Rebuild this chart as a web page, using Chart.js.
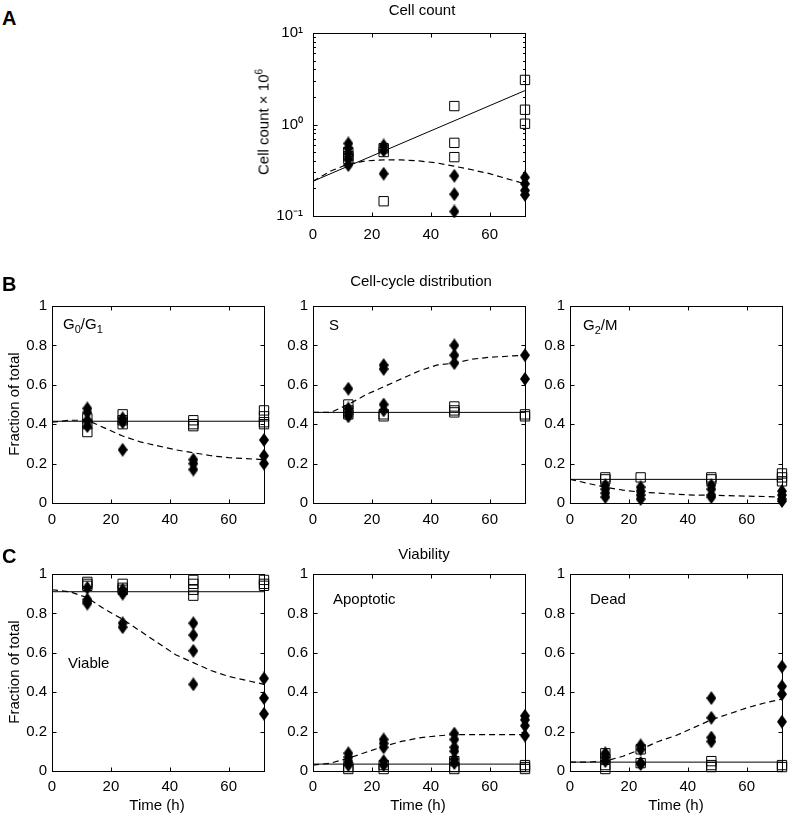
<!DOCTYPE html>
<html>
<head>
<meta charset="utf-8">
<script src="https://cdn.jsdelivr.net/npm/chart.js@4.4.0/dist/chart.umd.min.js"></script>
<style>
    body { margin: 0; background: #fff; width: 789px; height: 814px; position: relative; overflow: hidden;
           font-family: "Liberation Sans", Arial, sans-serif; color: #000; }
    canvas { position: absolute; z-index: 1; }
    .t { position: absolute; z-index: 2; font-size: 15px; font-weight: 400; line-height: 1; white-space: nowrap; }
    .c { transform: translateX(-50%); }
    .letter { position: absolute; z-index: 2; font-weight: bold; font-size: 20px; line-height: 1; }
    .yl { position: absolute; z-index: 2; font-size: 15px; line-height: 1; white-space: nowrap; transform: translate(-50%, -50%) rotate(-90deg); }
    sub { font-size: 11px; vertical-align: -4px; line-height: 0; }
    sup { font-size: 10px; vertical-align: 6px; line-height: 0; }
</style>
</head>
<body>
<div class="letter" style="left:2px;top:8px">A</div>
<div class="letter" style="left:2px;top:274px">B</div>
<div class="letter" style="left:2px;top:546px">C</div>

<div class="t c" style="left:422px;top:2px">Cell count</div>
<div class="t c" style="left:421px;top:273px">Cell-cycle distribution</div>
<div class="t c" style="left:424px;top:546px">Viability</div>

<div class="yl" style="left:263px;top:122px">Cell count × 10<sup>6</sup></div>
<div class="yl" style="left:13px;top:404px">Fraction of total</div>
<div class="yl" style="left:13px;top:672px">Fraction of total</div>

<div class="t" style="left:63px;top:316px">G<sub>0</sub>/G<sub>1</sub></div>
<div class="t" style="left:329px;top:317px">S</div>
<div class="t" style="left:583px;top:317px">G<sub>2</sub>/M</div>
<div class="t" style="left:68px;top:655px">Viable</div>
<div class="t" style="left:333px;top:591px">Apoptotic</div>
<div class="t" style="left:590px;top:591px">Dead</div>

<div class="t c" style="left:157px;top:797px">Time (h)</div>
<div class="t c" style="left:418px;top:797px">Time (h)</div>
<div class="t c" style="left:676px;top:797px">Time (h)</div>

<script>
/* ================= DATA ================= */
const times = [12, 24, 48, 72];
const curveT = [0, 6, 12, 18, 24, 30, 36, 42, 48, 54, 60, 66, 72];
const lineT = [0, 72];
const xTicks = [0, 20, 40, 60];
const fracTicks = [0, 0.2, 0.4, 0.6, 0.8, 1];
const fracTickLabels = ['0', '0.2', '0.4', '0.6', '0.8', '1'];
const logTicks = [0.1, 1, 10];
const logTickLabels = ['10⁻¹', '10⁰', '10¹'];

// A: cell count x 10^6
const countSquares = [[0.50, 0.45, 0.42], [0.55, 0.50, 0.145], [1.59, 0.63, 0.44], [3.07, 1.45, 1.02]];
const countDiamonds = [[0.62, 0.55, 0.48, 0.42, 0.36], [0.59, 0.52, 0.29], [0.275, 0.173, 0.112], [0.264, 0.225, 0.19, 0.17]];
const countSolid = [0.24, 2.35];
const countDashed = [0.24, 0.31, 0.37, 0.40, 0.41, 0.41, 0.40, 0.38, 0.35, 0.32, 0.29, 0.255, 0.225];

// B: cell-cycle distribution
const g1Squares = [[0.43, 0.40, 0.36], [0.45, 0.42, 0.40], [0.42, 0.40, 0.39], [0.47, 0.44, 0.41, 0.40]];
const g1Diamonds = [[0.48, 0.46, 0.42, 0.39], [0.43, 0.41, 0.27], [0.22, 0.20, 0.17], [0.32, 0.24, 0.20]];
const g1Solid = [0.415, 0.415];
const g1Dashed = [0.41, 0.42, 0.42, 0.38, 0.34, 0.31, 0.29, 0.27, 0.255, 0.24, 0.23, 0.225, 0.22];

const sSquares = [[0.50, 0.47, 0.45], [0.45, 0.44], [0.49, 0.47, 0.46], [0.45, 0.44]];
const sDiamonds = [[0.58, 0.48, 0.46, 0.44], [0.70, 0.68, 0.50, 0.47], [0.80, 0.75, 0.71], [0.75, 0.63]];
const sSolid = [0.46, 0.46];
const sDashed = [0.46, 0.46, 0.50, 0.55, 0.59, 0.63, 0.67, 0.70, 0.71, 0.73, 0.74, 0.745, 0.75];

const g2Squares = [[0.13, 0.12], [0.13], [0.13, 0.12], [0.15, 0.13, 0.11]];
const g2Diamonds = [[0.09, 0.07, 0.05, 0.03], [0.08, 0.06, 0.04, 0.02], [0.09, 0.07, 0.04, 0.03], [0.06, 0.04, 0.02, 0.01]];
const g2Solid = [0.12, 0.12];
const g2Dashed = [0.12, 0.10, 0.08, 0.065, 0.055, 0.05, 0.045, 0.04, 0.04, 0.037, 0.035, 0.033, 0.03];

// C: viability
const viableSquares = [[0.96, 0.95, 0.94], [0.95, 0.93, 0.92], [0.97, 0.95, 0.92, 0.89], [0.97, 0.95, 0.94]];
const viableDiamonds = [[0.93, 0.87, 0.86, 0.85], [0.92, 0.90, 0.75, 0.73], [0.75, 0.69, 0.61, 0.44], [0.47, 0.37, 0.29]];
const viableSolid = [0.91, 0.91];
const viableDashed = [0.92, 0.91, 0.88, 0.82, 0.77, 0.71, 0.65, 0.59, 0.55, 0.51, 0.48, 0.46, 0.44];

const apopSquares = [[0.02, 0.01], [0.03, 0.01], [0.05, 0.02, 0.01], [0.03, 0.02, 0.01]];
const apopDiamonds = [[0.09, 0.07, 0.05, 0.03], [0.16, 0.14, 0.12, 0.05, 0.03], [0.19, 0.16, 0.12, 0.10, 0.06, 0.04], [0.28, 0.26, 0.23, 0.18]];
const apopSolid = [0.035, 0.035];
const apopDashed = [0.03, 0.04, 0.065, 0.095, 0.125, 0.15, 0.168, 0.178, 0.185, 0.185, 0.185, 0.185, 0.185];

const deadSquares = [[0.09, 0.06, 0.03, 0.01], [0.11, 0.04], [0.05, 0.03, 0.02], [0.03, 0.02]];
const deadDiamonds = [[0.09, 0.07, 0.05], [0.13, 0.11, 0.04, 0.035], [0.37, 0.27, 0.17, 0.15], [0.53, 0.43, 0.39, 0.25]];
const deadSolid = [0.045, 0.045];
const deadDashed = [0.045, 0.045, 0.05, 0.075, 0.11, 0.15, 0.18, 0.22, 0.26, 0.29, 0.32, 0.345, 0.365];

/* ================= HELPERS ================= */
const FONT = { family: '"Liberation Sans", Arial, sans-serif', size: 15 };
const PAD_T = 12, PAD_R = 12, Y_W = 60, X_H = 26;

function pts(groups) {
    const out = [];
    groups.forEach((g, i) => g.forEach(v => out.push({ x: times[i], y: v })));
    return out;
}
function curve(ts, vs) {
    return ts.map((t, i) => ({ x: t, y: vs[i] }));
}

const diamond = (function () {
    const c = document.createElement('canvas');
    c.width = 10; c.height = 14;
    const g = c.getContext('2d');
    g.fillStyle = '#000';
    g.beginPath();
    g.moveTo(5, 0); g.lineTo(10, 7); g.lineTo(5, 14); g.lineTo(0, 7);
    g.closePath(); g.fill();
    return c;
})();

// box with inward ticks, matlab style
const boxPlugin = {
    id: 'box',
    beforeDatasetsDraw(chart) {
        const { ctx, chartArea: a, scales } = chart;
        const L = Math.round(a.left) + 0.5, R = Math.round(a.right) + 0.5;
        const T = Math.round(a.top) + 0.5, B = Math.round(a.bottom) + 0.5;
        ctx.save();
        ctx.strokeStyle = '#000';
        ctx.lineWidth = 1;
        ctx.strokeRect(L, T, R - L, B - T);
        ctx.beginPath();
        scales.x.ticks.forEach(t => {
            const p = Math.round(scales.x.getPixelForValue(t.value)) + 0.5;
            ctx.moveTo(p, B); ctx.lineTo(p, B - 4);
            ctx.moveTo(p, T); ctx.lineTo(p, T + 4);
        });
        scales.y.ticks.forEach(t => {
            const p = Math.round(scales.y.getPixelForValue(t.value)) + 0.5;
            ctx.moveTo(L, p); ctx.lineTo(L + 4, p);
            ctx.moveTo(R, p); ctx.lineTo(R - 4, p);
        });
        if (scales.y.type === 'logarithmic') {
            [0.1, 1].forEach(d => {
                for (let k = 2; k <= 9; k++) {
                    const p = Math.round(scales.y.getPixelForValue(k * d)) + 0.5;
                    ctx.moveTo(L, p); ctx.lineTo(L + 2.5, p);
                    ctx.moveTo(R, p); ctx.lineTo(R - 2.5, p);
                }
            });
        }
        ctx.stroke();
        ctx.restore();
    }
};

function panel(box, squares, diamonds, solid, dashed, isLog) {
    const cv = document.createElement('canvas');
    const w = Y_W + box.w + PAD_R, h = PAD_T + box.h + X_H;
    cv.width = w; cv.height = h;
    cv.style.left = (box.x - Y_W) + 'px';
    cv.style.top = (box.y - PAD_T) + 'px';
    cv.style.width = w + 'px';
    cv.style.height = h + 'px';
    document.body.appendChild(cv);

    const yScale = isLog ? {
        type: 'logarithmic', min: 0.1, max: 10,
        afterBuildTicks: s => { s.ticks = logTicks.map(v => ({ value: v })); },
        ticks: { color: '#000', font: FONT, padding: 10, callback: v => logTickLabels[logTicks.indexOf(v)] }
    } : {
        type: 'linear', min: 0, max: 1,
        afterBuildTicks: s => { s.ticks = fracTicks.map(v => ({ value: v })); },
        ticks: { color: '#000', font: FONT, padding: 5, callback: v => fracTickLabels[fracTicks.indexOf(v)] }
    };
    yScale.afterFit = s => { s.width = Y_W; };
    yScale.grid = { display: false, drawTicks: false };
    yScale.border = { display: false };

    new Chart(cv, {
        type: 'scatter',
        data: {
            datasets: [
                { data: pts(diamonds), pointStyle: diamond, pointRadius: 6, clip: false },
                { data: pts(squares), pointStyle: 'rect', pointRadius: 6.6, borderColor: '#000',
                  backgroundColor: 'rgba(0,0,0,0)', borderWidth: 1, clip: false },
                { data: curve(lineT, solid), showLine: true, borderColor: '#000', borderWidth: 1,
                  pointRadius: 0 },
                { data: curve(curveT, dashed), showLine: true, borderColor: '#000', borderWidth: 1.2,
                  borderDash: [6, 4], pointRadius: 0 }
            ]
        },
        options: {
            responsive: false,
            animation: false,
            devicePixelRatio: 1,
            layout: { padding: { top: PAD_T, right: PAD_R, left: 0, bottom: 0 } },
            plugins: { legend: { display: false }, tooltip: { enabled: false } },
            scales: {
                x: {
                    type: 'linear', min: 0, max: 72,
                    afterBuildTicks: s => { s.ticks = xTicks.map(v => ({ value: v })); },
                    afterFit: s => { s.height = X_H; },
                    grid: { display: false, drawTicks: false },
                    border: { display: false },
                    ticks: { color: '#000', font: FONT, padding: box.xPad, maxRotation: 0 }
                },
                y: yScale
            }
        },
        plugins: [boxPlugin]
    });
}

/* ================= PANELS ================= */
panel({ x: 313, y: 26, w: 212, h: 190, xPad: 10 }, countSquares, countDiamonds, countSolid, countDashed, true);

panel({ x: 52, y: 304, w: 212, h: 199, xPad: 8 }, g1Squares, g1Diamonds, g1Solid, g1Dashed);
panel({ x: 313, y: 304, w: 212, h: 199, xPad: 8 }, sSquares, sDiamonds, sSolid, sDashed);
panel({ x: 570, y: 304, w: 212, h: 199, xPad: 8 }, g2Squares, g2Diamonds, g2Solid, g2Dashed);

panel({ x: 52, y: 572, w: 212, h: 199, xPad: 7 }, viableSquares, viableDiamonds, viableSolid, viableDashed);
panel({ x: 313, y: 572, w: 212, h: 199, xPad: 7 }, apopSquares, apopDiamonds, apopSolid, apopDashed);
panel({ x: 570, y: 572, w: 212, h: 199, xPad: 7 }, deadSquares, deadDiamonds, deadSolid, deadDashed);
</script>
</body>
</html>
